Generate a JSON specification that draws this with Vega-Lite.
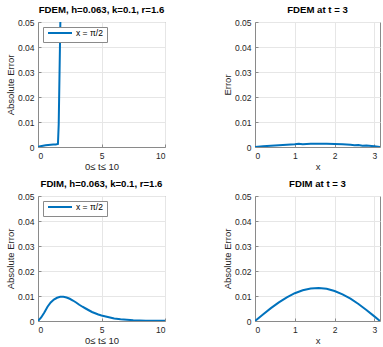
{
  "$schema": "https://vega.github.io/schema/vega-lite/v6.json",
  "padding": {"left": 4, "top": 4, "right": 0, "bottom": 0},
  "datasets": {
    "fdem_t": [
      {"t": 0, "err": 0, "series": "x = π/2"},
      {"t": 0.1, "err": 0.0002, "series": "x = π/2"},
      {"t": 0.2, "err": 0.0003, "series": "x = π/2"},
      {"t": 0.4, "err": 0.0005, "series": "x = π/2"},
      {"t": 0.6, "err": 0.0007, "series": "x = π/2"},
      {"t": 0.8, "err": 0.0008, "series": "x = π/2"},
      {"t": 1.0, "err": 0.0009, "series": "x = π/2"},
      {"t": 1.2, "err": 0.001, "series": "x = π/2"},
      {"t": 1.4, "err": 0.001, "series": "x = π/2"},
      {"t": 1.57, "err": 0.0012, "series": "x = π/2"},
      {"t": 1.63, "err": 0.009, "series": "x = π/2"},
      {"t": 1.76, "err": 0.05, "series": "x = π/2"},
      {"t": 1.9, "err": 0.11, "series": "x = π/2"}
    ],
    "fdem_x": [
      {"x": 0, "err": 0},
      {"x": 0.2, "err": 0.0003},
      {"x": 0.4, "err": 0.0005},
      {"x": 0.6, "err": 0.0007},
      {"x": 0.8, "err": 0.0009},
      {"x": 1.0, "err": 0.0011},
      {"x": 1.1, "err": 0.0013},
      {"x": 1.2, "err": 0.0011},
      {"x": 1.4, "err": 0.0013},
      {"x": 1.6, "err": 0.0013},
      {"x": 1.8, "err": 0.0013},
      {"x": 2.0, "err": 0.0012},
      {"x": 2.2, "err": 0.0011},
      {"x": 2.4, "err": 0.0009},
      {"x": 2.5, "err": 0.0007},
      {"x": 2.6, "err": 0.0008},
      {"x": 2.7, "err": 0.0005},
      {"x": 2.8, "err": 0.0006},
      {"x": 3.0, "err": 0.0003},
      {"x": 3.1416, "err": 0}
    ],
    "fdim_t": [
      {"t": 0, "err": 0, "series": "x = π/2"},
      {"t": 0.25, "err": 0.0014, "series": "x = π/2"},
      {"t": 0.5, "err": 0.0034, "series": "x = π/2"},
      {"t": 0.75, "err": 0.0057, "series": "x = π/2"},
      {"t": 1.0, "err": 0.0074, "series": "x = π/2"},
      {"t": 1.25, "err": 0.0086, "series": "x = π/2"},
      {"t": 1.5, "err": 0.0093, "series": "x = π/2"},
      {"t": 1.75, "err": 0.0097, "series": "x = π/2"},
      {"t": 2.0, "err": 0.0097, "series": "x = π/2"},
      {"t": 2.25, "err": 0.0094, "series": "x = π/2"},
      {"t": 2.5, "err": 0.0089, "series": "x = π/2"},
      {"t": 2.75, "err": 0.0082, "series": "x = π/2"},
      {"t": 3.0, "err": 0.0074, "series": "x = π/2"},
      {"t": 3.25, "err": 0.0065, "series": "x = π/2"},
      {"t": 3.5, "err": 0.0057, "series": "x = π/2"},
      {"t": 3.75, "err": 0.005, "series": "x = π/2"},
      {"t": 4.0, "err": 0.0043, "series": "x = π/2"},
      {"t": 4.25, "err": 0.0036, "series": "x = π/2"},
      {"t": 4.5, "err": 0.0031, "series": "x = π/2"},
      {"t": 4.75, "err": 0.0026, "series": "x = π/2"},
      {"t": 5.0, "err": 0.0022, "series": "x = π/2"},
      {"t": 5.5, "err": 0.0016, "series": "x = π/2"},
      {"t": 6.0, "err": 0.001, "series": "x = π/2"},
      {"t": 6.5, "err": 0.0007, "series": "x = π/2"},
      {"t": 7.0, "err": 0.0005, "series": "x = π/2"},
      {"t": 7.5, "err": 0.0003, "series": "x = π/2"},
      {"t": 8.0, "err": 0.0002, "series": "x = π/2"},
      {"t": 8.5, "err": 0.00015, "series": "x = π/2"},
      {"t": 9.0, "err": 0.0001, "series": "x = π/2"},
      {"t": 9.5, "err": 0.00007, "series": "x = π/2"},
      {"t": 10.0, "err": 0.00005, "series": "x = π/2"}
    ],
    "fdim_x": [
      {"x": 0, "err": 0},
      {"x": 0.2, "err": 0.00262},
      {"x": 0.4, "err": 0.00514},
      {"x": 0.6, "err": 0.00745},
      {"x": 0.8, "err": 0.00947},
      {"x": 1.0, "err": 0.01111},
      {"x": 1.2, "err": 0.0123},
      {"x": 1.4, "err": 0.01301},
      {"x": 1.6, "err": 0.0132},
      {"x": 1.8, "err": 0.01286},
      {"x": 2.0, "err": 0.012},
      {"x": 2.2, "err": 0.01065},
      {"x": 2.4, "err": 0.00891},
      {"x": 2.6, "err": 0.00681},
      {"x": 2.8, "err": 0.00442},
      {"x": 3.0, "err": 0.00186},
      {"x": 3.1416, "err": 0}
    ]
  },
  "columns": 2,
  "spacing": {"row": 49, "column": 90},
  "bounds": "flush",
  "resolve": {"scale": {"color": "independent"}, "legend": {"color": "independent"}},
  "concat": [
    {
      "title": {"text": "FDEM, h=0.063, k=0.1, r=1.6"},
      "width": 127, "height": 125,
      "data": {"name": "fdem_t"},
      "mark": {"type": "line", "clip": true, "strokeWidth": 2},
      "encoding": {
        "x": {"field": "t", "type": "quantitative", "scale": {"domain": [0, 10], "nice": false}, "axis": {"title": "0≤ t≤ 10", "values": [0, 5, 10]}},
        "y": {"field": "err", "type": "quantitative", "scale": {"domain": [0, 0.05], "nice": false}, "axis": {"title": "Absolute Error", "values": [0, 0.01, 0.02, 0.03, 0.04, 0.05], "format": "~g"}},
        "color": {"field": "series", "type": "nominal", "scale": {"range": ["#0072BD"]}, "legend": {"title": null}}
      }
    },
    {
      "title": {"text": "FDEM at t = 3"},
      "width": 125, "height": 125,
      "data": {"name": "fdem_x"},
      "mark": {"type": "line", "clip": true, "strokeWidth": 2, "color": "#0072BD"},
      "encoding": {
        "x": {"field": "x", "type": "quantitative", "scale": {"domain": [0, 3.1416], "nice": false}, "axis": {"title": "x", "values": [0, 1, 2, 3]}},
        "y": {"field": "err", "type": "quantitative", "scale": {"domain": [0, 0.05], "nice": false}, "axis": {"title": "Error", "values": [0, 0.01, 0.02, 0.03, 0.04, 0.05], "format": "~g"}}
      }
    },
    {
      "title": {"text": "FDIM, h=0.063, k=0.1, r=1.6"},
      "width": 127, "height": 125,
      "data": {"name": "fdim_t"},
      "mark": {"type": "line", "clip": true, "strokeWidth": 2},
      "encoding": {
        "x": {"field": "t", "type": "quantitative", "scale": {"domain": [0, 10], "nice": false}, "axis": {"title": "0≤ t≤ 10", "values": [0, 5, 10]}},
        "y": {"field": "err", "type": "quantitative", "scale": {"domain": [0, 0.05], "nice": false}, "axis": {"title": "Absolute Error", "values": [0, 0.01, 0.02, 0.03, 0.04, 0.05], "format": "~g"}},
        "color": {"field": "series", "type": "nominal", "scale": {"range": ["#0072BD"]}, "legend": {"title": null}}
      }
    },
    {
      "title": {"text": "FDIM at t = 3"},
      "width": 125, "height": 125,
      "data": {"name": "fdim_x"},
      "mark": {"type": "line", "clip": true, "strokeWidth": 2, "color": "#0072BD"},
      "encoding": {
        "x": {"field": "x", "type": "quantitative", "scale": {"domain": [0, 3.1416], "nice": false}, "axis": {"title": "x", "values": [0, 1, 2, 3]}},
        "y": {"field": "err", "type": "quantitative", "scale": {"domain": [0, 0.05], "nice": false}, "axis": {"title": "Absolute Error", "values": [0, 0.01, 0.02, 0.03, 0.04, 0.05], "format": "~g"}}
      }
    }
  ],
  "config": {
    "font": "Liberation Sans",
    "view": {"stroke": "#8a8a8a", "strokeWidth": 1},
    "axis": {
      "labelFontSize": 8.5, "labelColor": "#262626", "labelPadding": 7,
      "titleFontSize": 9.5, "titleFontWeight": "normal", "titleColor": "#262626", "titlePadding": 2,
      "domainColor": "#8a8a8a", "tickColor": "#8a8a8a", "tickSize": -3,
      "grid": true, "gridColor": "#e6e6e6"
    },
    "title": {"fontSize": 9.6, "fontWeight": "bold", "color": "#000000", "anchor": "middle", "frame": "group", "offset": 3},
    "legend": {
      "orient": "top-left", "offset": 5, "padding": 4,
      "strokeColor": "#8a8a8a", "fillColor": "#ffffff",
      "symbolType": "stroke", "symbolSize": 576, "symbolStrokeWidth": 2,
      "labelFontSize": 8.5, "labelColor": "#000000", "labelOffset": 3, "clipHeight": 4
    }
  }
}
